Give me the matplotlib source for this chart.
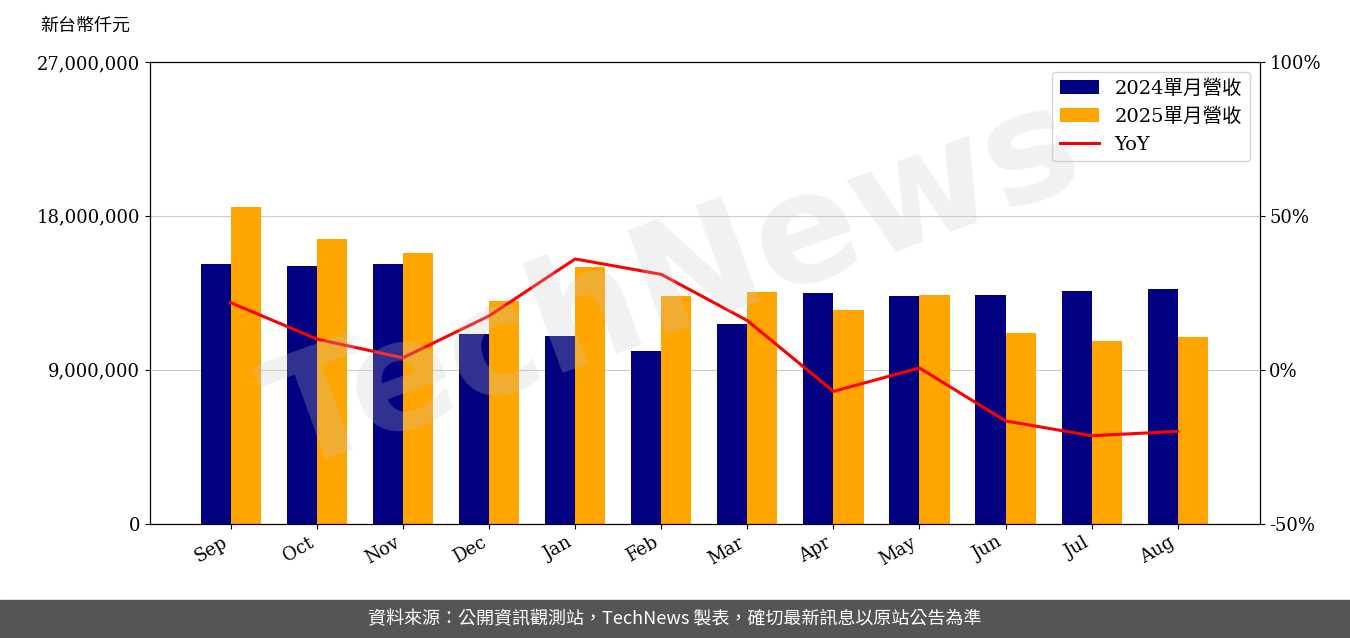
import matplotlib
matplotlib.use('Agg')
import matplotlib.pyplot as plt
import numpy as np
from matplotlib.ticker import FuncFormatter

plt.rcParams['font.family'] = ['DejaVu Serif', 'Noto Sans CJK TC']

months = ['Sep', 'Oct', 'Nov', 'Dec', 'Jan', 'Feb', 'Mar', 'Apr', 'May', 'Jun', 'Jul', 'Aug']
rev_2024 = [15200000, 15080000, 15200000, 11100000, 11000000, 10100000,
            11700000, 13500000, 13300000, 13400000, 13600000, 13700000]
rev_2025 = [18500000, 16650000, 15800000, 13000000, 15000000, 13300000,
            13560000, 12500000, 13400000, 11160000, 10700000, 10900000]
yoy = [21.8, 10.0, 3.9, 17.5, 36.0, 31.0, 16.0, -7.0, 0.6, -16.6, -21.4, -20.0]

fig = plt.figure(figsize=(13.5, 6.38), dpi=100)
ax = fig.add_axes([0.111, 0.179, 0.822, 0.724])
x = np.arange(len(months))
w = 0.35
b1 = ax.bar(x - w/2, rev_2024, w, color='#000080', label='2024單月營收')
b2 = ax.bar(x + w/2, rev_2025, w, color='#FFA500', label='2025單月營收')
ax.set_ylim(0, 27000000)
ax.set_yticks([0, 9000000, 18000000, 27000000])
ax.yaxis.set_major_formatter(FuncFormatter(lambda v, p: f'{int(v):,}'))
ax.grid(axis='y', color='#cccccc')
ax.set_axisbelow(True)
ax.set_xticks(x)
ax.set_xticklabels(months, rotation=30, ha='right')
ax.tick_params(labelsize=13)
ax.set_xlim(-0.94, 11.95)

ax2 = ax.twinx()
l, = ax2.plot(x, yoy, color='red', lw=2.2, label='YoY')
ax2.set_ylim(-50, 100)
ax2.set_yticks([-50, 0, 50, 100])
ax2.yaxis.set_major_formatter(FuncFormatter(lambda v, p: f'{int(v)}%'))
ax2.tick_params(labelsize=13)

ax2.legend([b1, b2, l], ['2024單月營收', '2025單月營收', 'YoY'], loc='upper right', fontsize=14)
fig.text(0.03, 0.96, '新台幣仟元', fontsize=13, family=['Noto Sans CJK TC'], va='center')
fig.text(0.5, 0.55, 'TechNews', fontsize=110, rotation=20, color='#c8c8c8', alpha=0.25,
         ha='center', va='center', family='DejaVu Sans', fontweight='bold', zorder=0)

fig.patches.append(plt.Rectangle((0, 0), 1, 0.06, transform=fig.transFigure, color='#555555', zorder=-1))
fig.text(0.5, 0.03, '資料來源：公開資訊觀測站，TechNews 製表，確切最新訊息以原站公告為準',
         color='white', fontsize=13, ha='center', va='center', family=['Noto Sans CJK TC', 'DejaVu Sans'])
fig.savefig('out.png', dpi=100)
